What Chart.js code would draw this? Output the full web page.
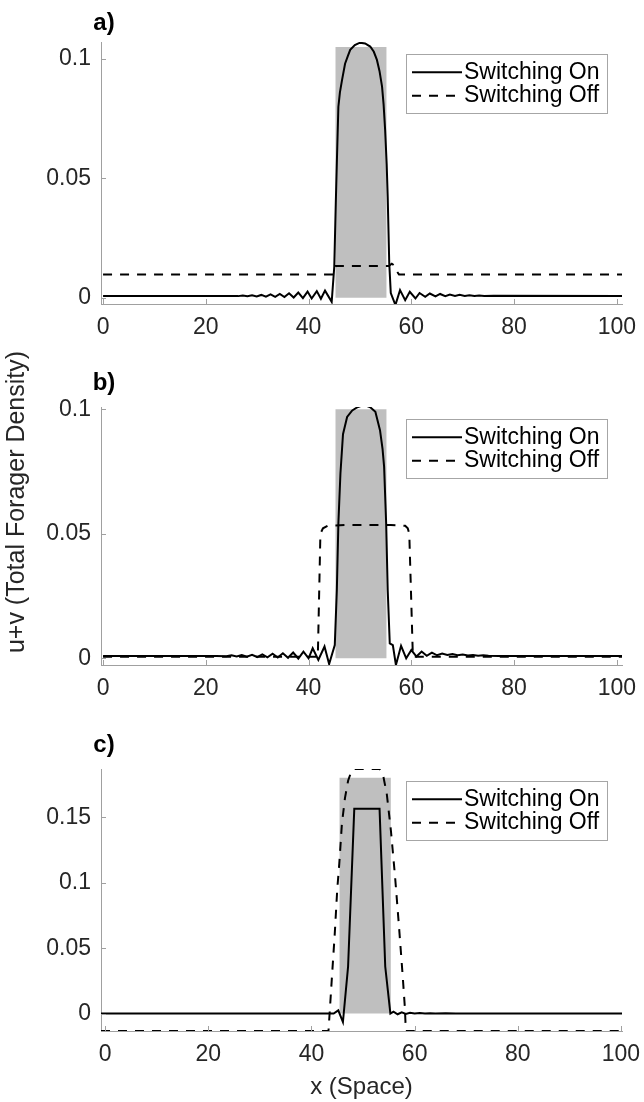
<!DOCTYPE html>
<html><head><meta charset="utf-8">
<script src="https://cdn.jsdelivr.net/npm/chart.js@4.4.1/dist/chart.umd.min.js"></script>
<style>
html,body{margin:0;padding:0;background:#fff;}
#wrap{position:relative;width:644px;height:1102px;overflow:hidden;background:#fff;}
canvas{position:absolute;left:0;}
</style></head><body>
<div id="wrap">
<canvas id="ca" width="644" height="350" style="top:0px"></canvas>
<canvas id="cb" width="644" height="360" style="top:350px"></canvas>
<canvas id="cc" width="644" height="392" style="top:710px"></canvas>
</div>
<script>
// ---------- data ----------
const seriesLabels = ['Switching On', 'Switching Off'];
const panelLabels = ['a)', 'b)', 'c)'];
const yAxisTitle = 'u+v (Total Forager Density)';
const xAxisTitle = 'x (Space)';
const xTickValues = [0, 20, 40, 60, 80, 100];
const xTickLabels = ['0', '20', '40', '60', '80', '100'];
const yTicksAB = [0, 0.05, 0.1];
const yTickLabelsAB = ['0', '0.05', '0.1'];
const yTicksC = [0, 0.05, 0.1, 0.15];
const yTickLabelsC = ['0', '0.05', '0.1', '0.15'];

// resource patch [x, y]
const patchA = [[45.2, 0], [45.2, 0.105], [55.2, 0.105], [55.2, 0]];
const patchB = [[45.2, 0], [45.2, 0.1], [55.2, 0.1], [55.2, 0]];
const patchC = [[45.4, 0], [45.4, 0.1804], [55.4, 0.1804], [55.4, 0]];

// panel a
const onA = [[0,0.0008],[22,0.0008],[26.3,0.0007],[27.2,0.0010],[28.1,0.0007],[29.0,0.0011],[29.9,0.0006],[30.8,0.0012],[31.7,0.0005],[32.6,0.0014],[33.5,0.0004],[34.4,0.0016],[35.3,0.0003],[36.2,0.0019],[37.1,0.0001],[38.0,0.0022],[38.9,-0.0001],[39.8,0.0026],[40.6,-0.0003],[41.6,0.0028],[42.4,-0.0004],[43.2,0.0030],[44.5,-0.0017],[45.0,0.013],[45.3,0.040],[45.5,0.0564],[45.8,0.080],[46.1,0.086],[46.5,0.091],[47.1,0.098],[47.6,0.101],[48.1,0.1038],[49.0,0.1058],[50.0,0.1068],[51.0,0.1065],[52.0,0.1052],[52.7,0.1030],[53.3,0.0996],[53.8,0.0950],[54.3,0.0884],[54.6,0.0810],[54.9,0.0703],[55.2,0.0560],[55.4,0.0423],[55.7,0.0145],[56.0,0.002],[56.9,-0.0030],[57.8,0.0032],[58.8,-0.0010],[59.7,0.0025],[60.8,-0.0003],[61.6,0.0020],[62.7,0.0004],[63.6,0.0018],[64.7,0.0006],[65.6,0.0016],[66.6,0.0007],[67.5,0.0014],[68.5,0.0008],[69.4,0.0013],[70.4,0.0008],[71.3,0.0011],[72.3,0.0008],[73.2,0.0010],[74.2,0.0008],[76,0.0009],[101,0.0008]];
const offA = [[0,0.0098],[44.8,0.0098],[45.3,0.0133],[55.6,0.0133],[56.2,0.0143],[56.7,0.0135],[57.2,0.0110],[57.6,0.0098],[101,0.0098]];

// panel b
const onB = [[0,0.0009],[22,0.0009],[24,0.0008],[25,0.0012],[26,0.0007],[27,0.0013],[28,0.0006],[29,0.0014],[30,0.0005],[31,0.0016],[32,0.0004],[33,0.0018],[34,0.0003],[35,0.0020],[36,0.0002],[37,0.0023],[38,-0.0001],[39,0.0027],[40,0.0],[40.8,0.0040],[41.9,-0.0007],[43.1,0.0047],[44.0,-0.0023],[45.1,0.0053],[45.5,0.0274],[45.8,0.0542],[46.2,0.0742],[46.7,0.0900],[47.5,0.0969],[48.5,0.0995],[49.5,0.1008],[50.3,0.1014],[51.0,0.1016],[52.0,0.1008],[53.0,0.0990],[53.9,0.0916],[54.4,0.0840],[54.7,0.0769],[55.1,0.0542],[55.4,0.0274],[55.8,0.0060],[56.4,0.0053],[57.0,-0.0027],[58.0,0.0050],[59.0,0.0],[60.0,0.0033],[61.0,0.0007],[62.0,0.0027],[63,0.0010],[64,0.0023],[65,0.0012],[66,0.0019],[67,0.0013],[68,0.0017],[69,0.0012],[70,0.0015],[71,0.0011],[72,0.0013],[73,0.0010],[74,0.0012],[75,0.0010],[77,0.0009],[101,0.0009]];
const offB = [[0,0.0006],[41.8,0.0006],[42.3,0.0500],[42.8,0.0522],[43.7,0.0532],[47,0.0535],[56,0.0535],[58.8,0.0532],[59.3,0.0522],[59.6,0.0500],[60.3,0.0006],[101,0.0006]];

// panel c
const onC = [[-0.8,0],[44.3,0],[45.2,0.0025],[46.1,-0.0065],[47.1,0.036],[48.3,0.1566],[53.2,0.1566],[54.3,0.036],[55.3,0.0],[55.9,0.0015],[56.7,-0.0005],[57.5,0.001],[58.3,-0.0002],[59.1,0.0006],[60,0],[61,0.0004],[62,0],[63,0.0003],[64,0],[66,0.0002],[68,0],[100.2,0]];
const offC = [[-0.8,-0.0133],[43.3,-0.0133],[43.6,0.005],[44.0,0.03],[44.5,0.06],[45.0,0.095],[45.4,0.115],[45.9,0.145],[46.5,0.165],[47.1,0.178],[47.8,0.186],[48.3,0.187],[53.2,0.187],[53.8,0.184],[54.6,0.168],[55.4,0.140],[56.2,0.105],[57.0,0.065],[57.7,0.028],[58.1,0.005],[58.3,-0.0133],[100.2,-0.0133]];

// ---------- styling / helpers ----------
const FONT = '"Liberation Sans", Arial, sans-serif';
const TXT = '#262626';
const AXIS = '#a0a0a0';
const DASH = [9, 8];
Chart.defaults.font.family = FONT;

const pts = arr => arr.map(p => ({x: p[0], y: p[1]}));

const innerTicks = {
  id: 'innerTicks',
  afterDraw(chart) {
    const {ctx, chartArea, scales} = chart;
    ctx.save();
    ctx.strokeStyle = AXIS; ctx.lineWidth = 1;
    ctx.beginPath();
    scales.x.ticks.forEach(t => {
      const px = Math.round(scales.x.getPixelForValue(t.value)) + 0.5;
      ctx.moveTo(px, chartArea.bottom); ctx.lineTo(px, chartArea.bottom - 5);
    });
    scales.y.ticks.forEach(t => {
      const py = Math.round(scales.y.getPixelForValue(t.value)) + 0.5;
      ctx.moveTo(chartArea.left, py); ctx.lineTo(chartArea.left + 5, py);
    });
    ctx.stroke();
    ctx.restore();
  }
};

const boxLegend = {
  id: 'boxLegend',
  afterDraw(chart) {
    const {ctx, chartArea} = chart;
    const w = 201, h = 59;
    const x0 = chartArea.right - 15 - w, y0 = chartArea.top + 12;
    ctx.save();
    ctx.fillStyle = '#fff'; ctx.fillRect(x0, y0, w, h);
    ctx.strokeStyle = '#a6a6a6'; ctx.lineWidth = 1;
    ctx.strokeRect(Math.round(x0) + 0.5, Math.round(y0) + 0.5, w, h);
    const items = chart.data.datasets.filter(d => d.inLegend);
    items.forEach((d, i) => {
      const cy = y0 + 18.3 + i * 23.4;
      ctx.beginPath();
      ctx.setLineDash(d.borderDash || []);
      ctx.lineWidth = d.borderWidth; ctx.strokeStyle = d.borderColor;
      ctx.moveTo(x0 + 6, cy); ctx.lineTo(x0 + 56, cy); ctx.stroke();
      ctx.setLineDash([]);
      ctx.fillStyle = '#000'; ctx.font = '23px ' + FONT;
      ctx.textBaseline = 'middle'; ctx.textAlign = 'left';
      ctx.fillText(d.label, x0 + 58, cy);
    });
    ctx.restore();
  }
};

const extraText = {
  id: 'extraText',
  afterDraw(chart, args, opts) {
    const {ctx, chartArea} = chart;
    ctx.save();
    ctx.fillStyle = '#000';
    ctx.font = 'bold 24px ' + FONT;
    ctx.textAlign = 'center'; ctx.textBaseline = 'middle';
    ctx.fillText(opts.panel, chartArea.left + 3, chartArea.top - opts.panelDy);
    if (opts.yTitle) {
      ctx.font = '25px ' + FONT; ctx.fillStyle = TXT;
      ctx.translate(opts.yTitleX, opts.yTitleY);
      ctx.rotate(-Math.PI / 2);
      ctx.fillText(opts.yTitle, 0, 0);
    }
    ctx.restore();
  }
};

function makePanel(id, cfg) {
  const canvasH = document.getElementById(id).height;
  return new Chart(document.getElementById(id), {
    type: 'line',
    data: {
      datasets: [
        {label: seriesLabels[0], data: pts(cfg.on), borderColor: '#000', borderWidth: 2, pointRadius: 0, tension: 0, fill: false, inLegend: true, order: 1},
        {label: seriesLabels[1], data: pts(cfg.off), borderColor: '#000', borderWidth: 2, borderDash: DASH, pointRadius: 0, tension: 0, fill: false, inLegend: true, order: 2},
        {label: 'patch', data: pts(cfg.patch), borderWidth: 0, borderColor: 'rgba(0,0,0,0)', backgroundColor: '#bfbfbf', pointRadius: 0, tension: 0, fill: 'origin', order: 3}
      ]
    },
    options: {
      responsive: false, animation: false, devicePixelRatio: 1,
      layout: {padding: {top: cfg.top, right: 22, left: 0, bottom: 0}},
      plugins: {
        legend: {display: false}, tooltip: {enabled: false},
        extraText: {panel: cfg.label, panelDy: cfg.labelDy, yTitle: cfg.yTitle, yTitleX: cfg.yTitleX, yTitleY: cfg.yTitleY}
      },
      scales: {
        x: {
          type: 'linear', min: cfg.xmin, max: cfg.xmax,
          grid: {display: false, drawTicks: false},
          border: {display: true, color: AXIS, width: 1},
          afterBuildTicks: s => { s.ticks = xTickValues.map(v => ({value: v})); },
          ticks: {color: TXT, font: {size: 23}, padding: 10, maxRotation: 0, autoSkip: false,
                  callback: (v, i) => xTickLabels[i]},
          title: cfg.xTitle ? {display: true, text: cfg.xTitle, color: TXT, font: {size: 24}, padding: {top: 0, bottom: 0}} : {display: false},
          afterFit: s => { s.height = canvasH - cfg.bottom; s.paddingLeft = 0; s.paddingRight = 0; }
        },
        y: {
          type: 'linear', min: cfg.ymin, max: cfg.ymax,
          grid: {display: false, drawTicks: false},
          border: {display: true, color: AXIS, width: 1},
          afterBuildTicks: s => { s.ticks = cfg.yTicks.map(v => ({value: v})); },
          ticks: {color: TXT, font: {size: 23}, padding: 10, autoSkip: false,
                  callback: (v, i) => cfg.yTickLabels[i]},
          afterFit: s => { s.width = 101; s.paddingTop = 0; s.paddingBottom = 0; }
        }
      }
    },
    plugins: [innerTicks, boxLegend, extraText]
  });
}

makePanel('ca', {on: onA, off: offA, patch: patchA, top: 42, bottom: 304, xmin: -0.4, xmax: 101,
  ymin: -0.0026, ymax: 0.1071, yTicks: yTicksAB, yTickLabels: yTickLabelsAB, label: panelLabels[0], labelDy: 19});
makePanel('cb', {on: onB, off: offB, patch: patchB, top: 57, bottom: 315, xmin: -0.4, xmax: 101,
  ymin: -0.0027, ymax: 0.1009, yTicks: yTicksAB, yTickLabels: yTickLabelsAB, label: panelLabels[1], labelDy: 24,
  yTitle: yAxisTitle, yTitleX: 17, yTitleY: 152});
makePanel('cc', {on: onC, off: offC, patch: patchC, top: 59, bottom: 321, xmin: -0.8, xmax: 100.2,
  ymin: -0.0133, ymax: 0.187, yTicks: yTicksC, yTickLabels: yTickLabelsC, label: panelLabels[2], labelDy: 24,
  xTitle: xAxisTitle});
</script>
</body></html>
